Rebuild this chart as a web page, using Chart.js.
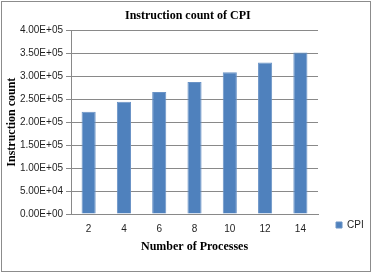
<!DOCTYPE html>
<html>
<head>
<meta charset="utf-8">
<title>Instruction count of CPI</title>
<script src="https://cdn.jsdelivr.net/npm/chart.js@4.4.1/dist/chart.umd.min.js"></script>
<style>
  html, body { margin: 0; padding: 0; background: #fff; }
  canvas { display: block; }
</style>
</head>
<body>
<canvas id="chart-cpi" width="374" height="273"></canvas>
<script>
const processes = ["2", "4", "6", "8", "10", "12", "14"];
const cpiCounts = [223000, 244500, 265800, 287400, 309000, 330000, 352000];
const seriesName = "CPI";
const yTickMax = 400000;
const yTickStep = 50000;

const gridColor = "#898989";
const textColor = "#1f1f1f";
const serifBold = { family: "'Liberation Serif', 'Times New Roman', serif", size: 12, weight: "bold" };
const tickFont = { family: "'Liberation Sans', Arial, sans-serif", size: 10 };

// Excel style scientific labels: 4.00E+05
const formatExp = (val) => {
  const [mant, exp] = Number(val).toExponential(2).split("e");
  const sign = exp[0] === "-" ? "-" : "+";
  const digits = exp.replace(/[+-]/, "").padStart(2, "0");
  return `${mant}E${sign}${digits}`;
};

// grey frame around the whole chart
const frame = {
  id: "frame",
  afterDraw(chart) {
    const { ctx } = chart;
    ctx.save();
    ctx.strokeStyle = "#8c8c8c";
    ctx.lineWidth = 1;
    ctx.strokeRect(1.5, 1.5, 369, 270);
    ctx.restore();
  },
};

const cfg = {
  type: "bar",
  data: {
    labels: processes,
    datasets: [
      {
        label: seriesName,
        data: cpiCounts,
        backgroundColor: "#4F81BD",
        borderColor: "#6a93c6",
        borderWidth: 1,
        barPercentage: 0.4,
        categoryPercentage: 1,
      },
    ],
  },
  options: {
    responsive: false,
    animation: false,
    devicePixelRatio: 1,
    layout: {
      padding: { left: 2, right: 0.3, top: 0, bottom: 25 },
    },
    plugins: {
      title: {
        display: true,
        text: "Instruction count of CPI",
        color: "#000",
        font: serifBold,
        padding: { top: 9, bottom: 7 },
      },
      legend: {
        position: "right",
        align: "end",
        labels: {
          boxWidth: 6,
          boxHeight: 6,
          padding: 18,
          color: textColor,
          font: tickFont,
        },
      },
      tooltip: { enabled: false },
    },
    scales: {
      x: {
        grid: { display: false, drawTicks: false },
        border: { color: gridColor },
        ticks: { color: textColor, font: tickFont, padding: 9 },
        title: {
          display: true,
          text: "Number of Processes",
          color: "#000",
          font: serifBold,
          padding: { top: 0, bottom: -5.9 },
        },
        afterFit(scale) {
          scale.height = 34;
        },
      },
      y: {
        min: 0,
        max: yTickMax,
        grid: { color: gridColor, tickLength: 5 },
        border: { color: gridColor },
        ticks: {
          stepSize: yTickStep,
          color: textColor,
          font: tickFont,
          padding: 3,
          callback: (val) => formatExp(val),
        },
        title: {
          display: true,
          text: "Instruction count",
          color: "#000",
          font: serifBold,
          padding: { top: 3, bottom: 0 },
        },
        afterFit(scale) {
          scale.width = 69;
        },
      },
    },
  },
  plugins: [frame],
};

const chart = new Chart(document.getElementById("chart-cpi"), cfg);
</script>
</body>
</html>
